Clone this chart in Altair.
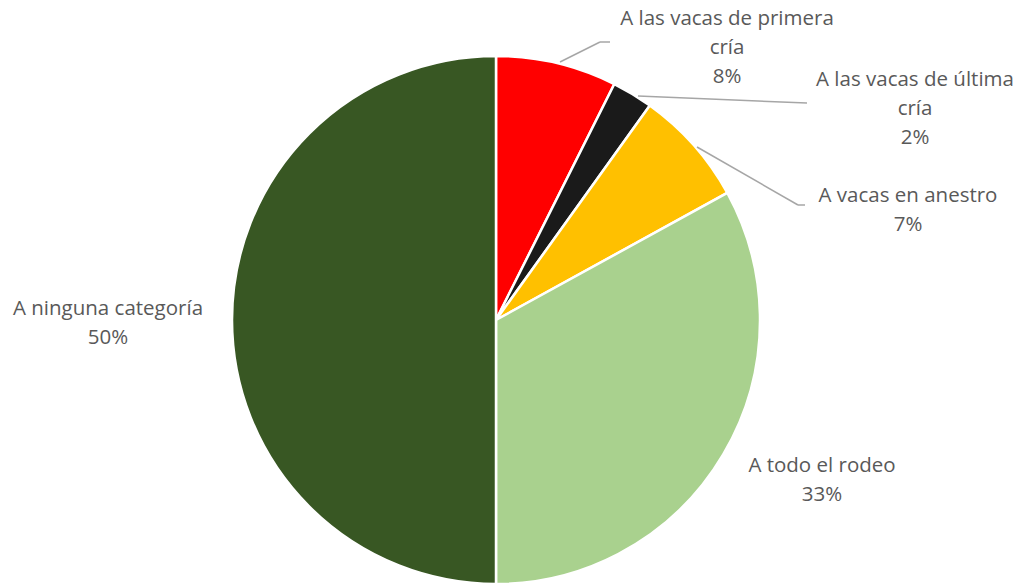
import altair as alt
import pandas as pd

categories = ["A las vacas de primera cría", "A las vacas de última cría",
              "A vacas en anestro", "A todo el rodeo", "A ninguna categoría"]
values = [7.4, 2.5, 7.1, 33.0, 50.0]
pct_labels = ["8%", "2%", "7%", "33%", "50%"]
colors = ["#FF0000", "#1A1A1A", "#FFC000", "#A9D18E", "#385723"]

# label text (line-broken as in the reference)
label_text = ["A las vacas de primera\ncría\n8%",
              "A las vacas de última\ncría\n2%",
              "A vacas en anestro\n7%",
              "A todo el rodeo\n33%",
              "A ninguna categoría\n50%"]

# layout (pixel positions inside the chart area; chart has 8px top padding)
CX, CY, R = 488, 304, 264
label_x = [719, 907, 900, 814, 100]
label_y = [3, 64, 180, 450, 293]
leader_segments = [
    (552, 46, 592, 26), (592, 26, 602, 26),
    (630, 80, 799, 87),
    (689, 131, 790, 189), (790, 189, 797, 189),
]

df = pd.DataFrame({
    "cat": categories, "value": values, "idx": list(range(len(values))),
})

pie = alt.Chart(df).mark_arc(radius=R, stroke="white", strokeWidth=2.5).encode(
    theta=alt.Theta("value:Q", stack=True),
    order=alt.Order("idx:Q"),
    color=alt.Color("cat:N", scale=alt.Scale(domain=categories, range=colors), legend=None),
    x=alt.value(CX), y=alt.value(CY),
)

lab_df = pd.DataFrame({"t": label_text, "x": label_x, "y": label_y})
labels = alt.Chart(lab_df).mark_text(
    font="Open Sans", fontSize=20.5, color="#595959", align="center",
    baseline="middle", lineBreak="\n", lineHeight=29,
).encode(
    x=alt.X("x:Q", scale=None, axis=None),
    y=alt.Y("y:Q", scale=None, axis=None),
    text="t:N",
)

seg_df = pd.DataFrame(leader_segments, columns=["x", "y", "x2", "y2"])
leaders = alt.Chart(seg_df).mark_rule(color="#A6A6A6", strokeWidth=1.5).encode(
    x=alt.X("x:Q", scale=None, axis=None),
    y=alt.Y("y:Q", scale=None, axis=None),
    x2="x2:Q", y2="y2:Q",
)

chart = alt.layer(pie, leaders, labels).properties(
    width=1006, height=569,
    padding={"top": 8, "left": 0, "right": 0, "bottom": 0},
    autosize=alt.AutoSizeParams(type="none"),
).configure_view(stroke=None)

chart.save("out.html", embed_options={"renderer": "svg", "actions": False})
